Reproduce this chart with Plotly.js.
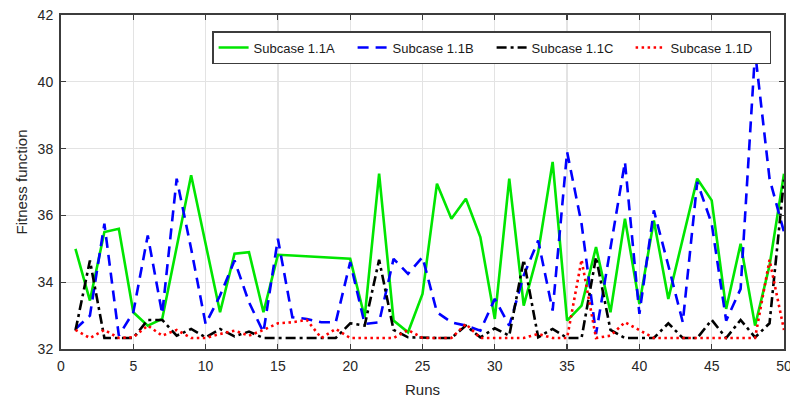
<!DOCTYPE html>
<html>
<head>
<meta charset="utf-8">
<script src="https://cdn.plot.ly/plotly-3.0.1.min.js"></script>
<style>html,body{margin:0;padding:0;background:#fff;}#chart{width:790px;height:398px;}</style>
</head>
<body>
<div id="chart"></div>
<script>
const runs = [1,2,3,4,5,6,7,8,9,10,11,12,13,14,15,16,17,18,19,20,21,22,23,24,25,26,27,28,29,30,31,32,33,34,35,36,37,38,39,40,41,42,43,44,45,46,47,48,49,50];
const seriesNames = ["Subcase 1.1A", "Subcase 1.1B", "Subcase 1.1C", "Subcase 1.1D"];
const subcaseA = [35.0, 33.45, 35.5, 35.6, 33.1, 32.7, 32.9, 35.05, 37.2, 35.15, 33.1, 34.85, 34.9, 33.1, 34.82, 34.8, 34.78, 34.76, 34.73, 34.7, 32.95, 37.25, 32.85, 32.5, 33.65, 36.95, 35.9, 36.5, 35.35, 32.9, 37.1, 33.3, 34.9, 37.6, 32.85, 33.3, 35.05, 33.1, 35.9, 33.35, 35.85, 33.5, 35.3, 37.1, 36.45, 33.2, 35.15, 32.7, 34.5, 37.25];
const subcaseB = [32.6, 33.0, 35.75, 32.4, 33.1, 35.4, 33.05, 37.1, 35.0, 32.75, 33.6, 34.65, 33.4, 32.5, 35.3, 32.95, 32.9, 32.8, 32.8, 34.6, 32.75, 32.8, 34.7, 34.25, 34.75, 33.1, 32.8, 32.7, 32.55, 33.5, 32.7, 34.2, 35.25, 33.15, 37.9, 35.75, 32.45, 35.0, 37.6, 33.05, 36.15, 34.5, 32.8, 37.0, 35.75, 32.85, 33.8, 40.9, 37.1, 35.5];
const subcaseC = [32.55, 34.65, 32.33, 32.33, 32.33, 32.87, 32.87, 32.4, 32.6, 32.35, 32.6, 32.38, 32.52, 32.33, 32.33, 32.33, 32.33, 32.33, 32.33, 32.77, 32.7, 34.67, 32.57, 32.35, 32.33, 32.33, 32.33, 32.7, 32.35, 32.62, 32.4, 34.67, 32.35, 32.6, 32.33, 32.33, 34.75, 32.57, 32.33, 32.33, 32.33, 32.77, 32.33, 32.33, 32.87, 32.33, 32.87, 32.35, 32.77, 37.07];
const subcaseD = [32.57, 32.33, 32.57, 32.33, 32.35, 32.7, 32.4, 32.57, 32.33, 32.33, 32.45, 32.55, 32.4, 32.57, 32.77, 32.8, 32.87, 32.33, 32.6, 32.33, 32.33, 32.33, 32.33, 32.57, 32.33, 32.33, 32.33, 32.75, 32.33, 32.33, 32.33, 32.33, 32.45, 32.33, 32.33, 34.67, 32.33, 32.4, 32.8, 32.57, 32.33, 32.33, 32.33, 32.33, 32.33, 32.33, 32.33, 32.33, 34.67, 32.57];
const xTicks = [0,5,10,15,20,25,30,35,40,45,50];
const yTicks = [32,34,36,38,40,42];

const FONT = "Liberation Sans, Arial, Helvetica, sans-serif";
const styles = [
  {color: "#00e600", width: 2.6, dash: "solid"},
  {color: "#0000ff", width: 2.6, dash: "11px,7px"},
  {color: "#000000", width: 2.6, dash: "10px,4px,3px,4px"},
  {color: "#ff0000", width: 2.6, dash: "2.5px,3.5px"}
];
const values = [subcaseA, subcaseB, subcaseC, subcaseD];
const traces = values.map((v, i) => ({
  x: runs, y: v, type: "scatter", mode: "lines", name: seriesNames[i],
  line: styles[i]
}));

const axisCommon = {
  showline: true, linecolor: "#3c3c3c", linewidth: 2, mirror: "ticks",
  ticks: "inside", ticklen: 5, tickwidth: 1.2, tickcolor: "#3c3c3c",
  showgrid: true, gridcolor: "#e3e3e3", gridwidth: 1.3, zeroline: false,
  tickfont: {family: FONT, size: 14, color: "#262626"}
};

const layout = {
  width: 790, height: 398,
  margin: {l: 61, r: 6, t: 15, b: 49},
  paper_bgcolor: "#ffffff", plot_bgcolor: "#ffffff",
  showlegend: true,
  legend: {
    orientation: "h", x: 0.209, xanchor: "left", y: 0.952, yanchor: "top",
    bgcolor: "#ffffff", bordercolor: "#3c3c3c", borderwidth: 1.5,
    font: {family: FONT, size: 13, color: "#1a1a1a"},
    entrywidth: 94, entrywidthmode: "pixels", tracegroupgap: 0
  },
  xaxis: Object.assign({}, axisCommon, {
    range: [0, 50], tickvals: xTicks, ticktext: xTicks.map(String),
    ticklabeloverflow: "allow", ticklabelstandoff: 3,
    title: {text: "Runs", font: {family: FONT, size: 15, color: "#262626"}, standoff: 12}
  }),
  yaxis: Object.assign({}, axisCommon, {
    range: [32, 42], tickvals: yTicks, ticktext: yTicks.map(String),
    ticklabelstandoff: 3,
    title: {text: "Fitness function", font: {family: FONT, size: 15, color: "#262626"}, standoff: 6}
  })
};

Plotly.newPlot("chart", traces, layout, {staticPlot: true, displayModeBar: false});
</script>
</body>
</html>
